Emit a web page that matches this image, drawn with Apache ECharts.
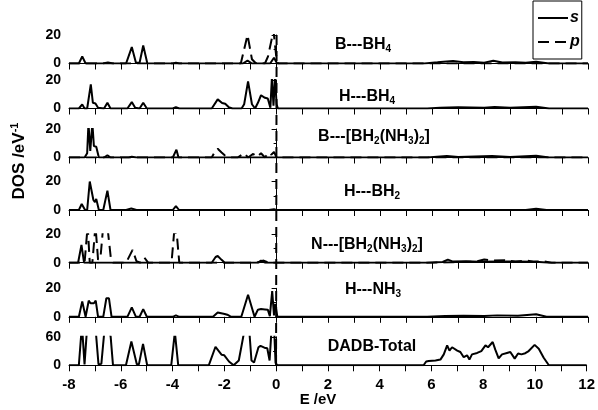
<!DOCTYPE html>
<html>
<head>
<meta charset="utf-8">
<script src="https://cdn.jsdelivr.net/npm/echarts@6/dist/echarts.min.js"></script>
<style>
  html, body { margin: 0; padding: 0; background: #fff; }
  #main { width: 598px; height: 410px; }
</style>
</head>
<body>
<div id="main"></div>
<script>
// x tick labels
var xTicks = [-8, -6, -4, -2, 0, 2, 4, 6, 8, 10, 12];

// B---BH4
var bBH4_s = [[-8,0],[-7.62,0],[-7.49,5],[-7.36,0],[-6.7,0],[-6.5,0.8],[-6.3,0],[-5.8,0],[-5.58,11.5],[-5.42,0.5],[-5.28,0.5],[-5.14,12.6],[-4.98,0],[-4.0,0],[-3.88,0.6],[-3.75,0],[-1.3,0],[-1.12,2],[-0.95,0],[-0.25,0],[-0.1,4],[0.02,0],[5.7,0],[6.2,0.8],[6.8,1.8],[7.2,0.8],[7.6,1],[8.0,0.6],[8.35,2],[8.7,0.7],[9.2,0.8],[9.6,0.6],[10.0,1.2],[10.5,0],[12,0]];
var bBH4_p = [[-8,0],[-1.38,0],[-1.12,20],[-0.95,3],[-0.82,0.5],[-0.45,0],[-0.33,5],[-0.12,23],[-0.02,6],[0.05,0],[12,0]];

// H---BH4
var hBH4_s = [[-8,0],[-7.62,0],[-7.49,2.9],[-7.4,0],[-7.3,0],[-7.16,17],[-7.08,4],[-6.98,3.5],[-6.88,0.5],[-6.65,0],[-6.52,4],[-6.4,0],[-5.75,0],[-5.58,4.5],[-5.45,0.5],[-5.28,0],[-5.14,4],[-5.0,0],[-4.0,0],[-3.88,1],[-3.75,0],[-2.5,0],[-2.27,6.4],[-2.1,3.8],[-1.98,3.3],[-1.85,1],[-1.7,0],[-1.35,0],[-1.25,3],[-1.1,19],[-0.95,3],[-0.83,0],[-0.72,4],[-0.6,9.3],[-0.45,7.5],[-0.34,7],[-0.24,0.5],[-0.18,22],[-0.12,2],[-0.06,22],[0.0,3],[0.05,0],[5.8,0],[6.3,0.6],[7.0,0.8],[8.0,0.6],[8.4,1],[9.0,0.6],[10.0,1.2],[10.5,0],[12,0]];

// B---[BH2(NH3)2]
var bDiam_s = [[-8,0],[-7.4,0],[-7.3,3],[-7.25,24],[-7.18,4.6],[-7.1,24],[-7.04,8],[-6.95,7.6],[-6.85,0],[-6.65,0],[-6.52,1.6],[-6.4,0],[-5.7,0],[-5.58,0.5],[-5.4,0],[-4.0,0],[-3.86,5.5],[-3.78,0],[5.8,0],[6.56,1],[7,0.4],[8.3,1],[9,0.4],[10.0,1.2],[10.5,0],[12,0]];
var bDiam_p = [[-8,0],[-2.5,0],[-2.35,5],[-2.27,6.2],[-2.12,3.5],[-2.0,1.5],[-1.8,0],[-1.5,0],[-1.25,3],[-1.1,0],[-0.9,2.5],[-0.75,0.5],[-0.6,3],[-0.45,0],[-0.3,3.5],[-0.2,2],[-0.1,4],[0.0,0],[12,0]];

// H---BH2
var hBH2_s = [[-8,0],[-7.62,0],[-7.51,4.2],[-7.38,0],[-7.3,0],[-7.2,20],[-7.06,7],[-7.0,5.5],[-6.95,7.8],[-6.85,0],[-6.68,0],[-6.52,13.6],[-6.4,0],[-5.8,0],[-5.6,1],[-5.4,0],[-4.0,0],[-3.88,2.8],[-3.76,0],[-0.3,0],[-0.1,0.5],[0,0],[9.6,0],[10.0,0.8],[10.4,0],[12,0]];

// N---[BH2(NH3)2]
var nDiam_s = [[-8,0],[-7.65,0],[-7.52,12.5],[-7.42,0],[-2.5,0],[-2.35,4],[-2.27,4.7],[-2.12,2],[-2.0,0],[-0.7,0],[-0.6,1.5],[-0.45,0],[5.8,0],[6.4,0.5],[6.6,2.2],[6.8,0.8],[7.3,1],[7.8,0.6],[8.5,0.8],[9.2,0.8],[10.0,0.6],[10.5,0],[12,0]];
var nDiam_p = [[-8,0],[-7.4,0],[-7.28,26],[-7.2,0],[-7.1,0],[-6.98,26],[-6.88,2],[-6.78,5],[-6.68,26],[-6.5,22],[-6.38,2],[-6.3,0],[-5.8,0],[-5.55,9],[-5.4,1],[-5.25,0],[-5.1,3.7],[-4.95,0],[-4.05,0],[-3.95,21],[-3.9,20],[-3.85,21],[-3.75,0],[-0.8,0],[-0.5,1.5],[-0.3,0],[6.0,0],[7.7,0.8],[8.0,2.2],[8.3,1.5],[8.8,1.8],[9.2,0.7],[9.6,1.6],[9.9,0.6],[10.3,1.0],[10.6,0],[12,0]];

// H---NH3
var hNH3_s = [[-8,0],[-7.62,0],[-7.49,10.8],[-7.36,0],[-7.3,0],[-7.24,11.3],[-7.17,9.5],[-7.1,10.6],[-7.04,9.5],[-6.97,11.3],[-6.88,0],[-6.68,0],[-6.56,13],[-6.52,14],[-6.46,13],[-6.36,0],[-5.75,0],[-5.58,6.6],[-5.42,0],[-5.28,0],[-5.14,5.4],[-5.0,0],[-4.0,0],[-3.88,1],[-3.75,0],[-2.45,0],[-2.27,3],[-2.0,2],[-1.9,1.5],[-1.75,0],[-1.36,0],[-1.1,15.5],[-0.85,0],[-0.72,5],[-0.6,5.4],[-0.45,5.2],[-0.34,5],[-0.26,0.5],[-0.17,18],[-0.1,1],[-0.05,9],[0.03,0],[5.8,0],[6.5,0.6],[7.2,0.8],[8.0,0.6],[8.5,1],[9.3,0.8],[10.0,1.8],[10.4,0],[12,0]];

// DADB-Total
var total_s = [[-8,0],[-7.62,0],[-7.5,85],[-7.4,2],[-7.3,80],[-7.1,90],[-6.97,75],[-6.86,2],[-6.75,3],[-6.62,80],[-6.5,90],[-6.39,60],[-6.3,0],[-5.8,0],[-5.59,50],[-5.38,2],[-5.3,2],[-5.14,45],[-4.98,0],[-4.05,0],[-3.91,70],[-3.78,0],[-2.6,0],[-2.34,39],[-2.1,22],[-2.0,21],[-1.82,8],[-1.64,0],[-1.44,10],[-1.2,80],[-1.05,85],[-0.95,10],[-0.85,6],[-0.78,5],[-0.68,38],[-0.6,41],[-0.45,37],[-0.34,36],[-0.25,10],[-0.17,80],[-0.08,85],[-0.02,5],[0.05,0],[5.7,0],[5.8,8],[5.9,9],[6.16,10],[6.35,12],[6.48,23],[6.61,42],[6.70,31],[6.80,38],[7.0,31],[7.12,28],[7.25,17],[7.38,21],[7.47,12],[7.57,23],[7.77,26],[7.93,30],[8.09,42],[8.19,38],[8.37,49],[8.47,33],[8.60,14.5],[8.73,23],[8.92,26],[9.05,28],[9.22,14],[9.35,25],[9.48,23],[9.63,25.5],[9.76,30],[9.99,43],[10.15,35],[10.34,16],[10.54,0],[12,0]];

var panels = [
  { label: '{m|B---BH}{u|4}', s: bBH4_s, p: bBH4_p, max: 20 },
  { label: '{m|H---BH}{u|4}', s: hBH4_s, max: 20 },
  { label: '{m|B---[BH}{u|2}{m|(NH}{u|3}{m|)}{u|2}{m|]}', s: bDiam_s, p: bDiam_p, max: 20 },
  { label: '{m|H---BH}{u|2}', s: hBH2_s, max: 20 },
  { label: '{m|N---[BH}{u|2}{m|(NH}{u|3}{m|)}{u|2}{m|]}', s: nDiam_s, p: nDiam_p, max: 20 },
  { label: '{m|H---NH}{u|3}', s: hNH3_s, max: 20 },
  { label: '{m|DADB-Total}', s: total_s, max: 60 }
];

var font = '"Liberation Sans", Arial, sans-serif';
var gridTops = [35, 80, 129, 181.5, 234.2, 288.3, 336.8];
var labelPos = [[363, 45], [367, 97], [374, 137], [372, 192], [367, 245], [373, 290], [372, 347]];

var grids = [], xAxes = [], yAxes = [], series = [], graphics = [];
panels.forEach(function (pn, i) {
  grids.push({ left: 69, width: 519, top: gridTops[i], height: 28.5 });
  xAxes.push({
    gridIndex: i, type: 'value', min: -8, max: 12, interval: 1,
    axisLine: { onZero: false, lineStyle: { color: '#000', width: 1 } },
    axisTick: { length: 6, lineStyle: { color: '#000', width: 1 } },
    splitLine: { show: false },
    axisLabel: {
      show: i === panels.length - 1, margin: 12,
      color: '#000', fontSize: 15, fontWeight: 'bold', fontFamily: font,
      showMinLabel: true, showMaxLabel: true,
      formatter: function (v) { return xTicks.indexOf(v) >= 0 ? String(v) : ''; }
    }
  });
  yAxes.push({
    gridIndex: i, type: 'value', min: 0, max: pn.max, interval: pn.max,
    axisLine: { show: true, lineStyle: { color: '#000', width: 1 } },
    axisTick: { show: true, length: 5, lineStyle: { color: '#000', width: 1 } },
    minorTick: { show: true, splitNumber: 2, length: 3, lineStyle: { color: '#000', width: 1 } },
    splitLine: { show: false },
    axisLabel: { margin: 8, color: '#000', fontSize: 14, fontWeight: 'bold', fontFamily: font }
  });
  series.push({
    name: 's', type: 'line', xAxisIndex: i, yAxisIndex: i, data: pn.s,
    symbol: 'none', showSymbol: false,
    lineStyle: { color: '#000', width: 2 }, itemStyle: { color: '#000' }
  });
  if (pn.p) {
    series.push({
      name: 'p', type: 'line', xAxisIndex: i, yAxisIndex: i, data: pn.p,
      symbol: 'none', showSymbol: false,
      lineStyle: { color: '#000', width: 2, type: [11, 6] }, itemStyle: { color: '#000' }
    });
  }
  graphics.push({
    type: 'text', id: 'lab' + i, x: labelPos[i][0], y: labelPos[i][1],
    style: {
      text: pn.label, align: 'center', verticalAlign: 'middle', fill: '#000',
      rich: {
        m: { fontSize: 16, fontWeight: 'bold', fontFamily: font, lineHeight: 18 },
        u: { fontSize: 10, fontWeight: 'bold', fontFamily: font, lineHeight: 10, verticalAlign: 'bottom' }
      }
    }
  });
});

graphics.push({
  type: 'text', id: 'ytitle', x: 19, y: 161, rotation: Math.PI / 2,
  style: {
    text: '{a|DOS /eV}{b|-1}', align: 'center', verticalAlign: 'middle', fill: '#000',
    rich: {
      a: { fontSize: 17, fontWeight: 'bold', fontFamily: font, lineHeight: 20 },
      b: { fontSize: 11, fontWeight: 'bold', fontFamily: font, lineHeight: 11, verticalAlign: 'top' }
    }
  }
});
graphics.push({
  type: 'text', id: 'xtitle', x: 318, y: 400,
  style: { text: 'E /eV', align: 'center', verticalAlign: 'middle', fill: '#000',
    font: 'bold 15px ' + font }
});

var chart = echarts.init(document.getElementById('main'));
chart.setOption({
  animation: false,
  backgroundColor: '#fff',
  grid: grids,
  xAxis: xAxes,
  yAxis: yAxes,
  series: series,
  legend: {
    data: ['s', 'p'], orient: 'vertical', left: 533, top: 1,
    borderColor: '#000', borderWidth: 1, borderRadius: 0,
    padding: [9, 2, 9, 4], itemGap: 8, itemWidth: 30, itemHeight: 14,
    itemStyle: { opacity: 0 },
    textStyle: { color: '#000', fontSize: 16, lineHeight: 14, fontWeight: 'bold', fontStyle: 'italic', fontFamily: font, padding: [0, 0, 0, -3] }
  },
  graphic: graphics
});

// Fermi level line at E = 0 through all panels
var pTop = chart.convertToPixel({ gridIndex: 0 }, [0, panels[0].max]);
var pBot = chart.convertToPixel({ gridIndex: panels.length - 1 }, [0, 0]);
chart.setOption({
  graphic: [{
    type: 'line', id: 'fermi',
    shape: { x1: pTop[0], y1: pTop[1], x2: pBot[0], y2: pBot[1] },
    style: { stroke: '#000', lineWidth: 2, lineDash: [10, 6] }
  }]
});
</script>
</body>
</html>
